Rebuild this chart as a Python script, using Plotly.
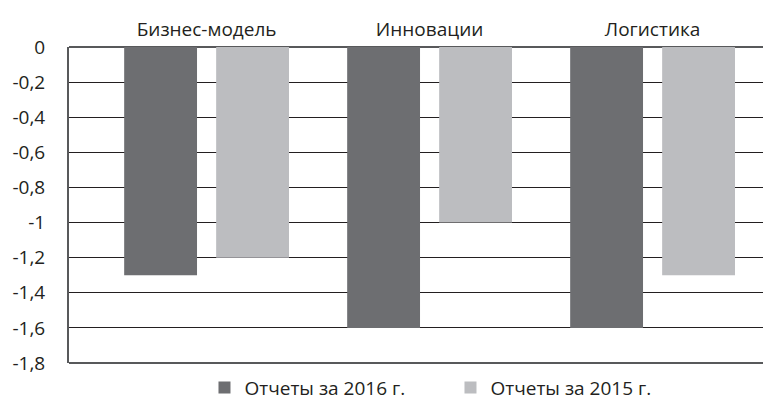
import plotly.graph_objects as go

categories = ["Бизнес-модель", "Инновации", "Логистика"]
series_2016 = [-1.3, -1.6, -1.6]
series_2015 = [-1.2, -1.0, -1.3]
series_names = ["Отчеты за 2016 г.", "Отчеты за 2015 г."]
y_tickvals = [0, -0.2, -0.4, -0.6, -0.8, -1.0, -1.2, -1.4, -1.6, -1.8]
y_ticktext = ["0", "-0,2", "-0,4", "-0,6", "-0,8", "-1", "-1,2", "-1,4", "-1,6", "-1,8"]

FONT = "Open Sans"
FS = 19

fig = go.Figure()
fig.add_trace(go.Bar(x=categories, y=series_2016, name=series_names[0],
                     marker=dict(color="#6d6e71", line=dict(width=0))))
fig.add_trace(go.Bar(x=categories, y=series_2015, name=series_names[1],
                     marker=dict(color="#bcbdc0", line=dict(width=0))))

fig.update_layout(
    width=763, height=393,
    margin=dict(l=61, r=0, t=39, b=38, autoexpand=False),
    paper_bgcolor="white", plot_bgcolor="white",
    barmode="group", bargap=0.175, bargroupgap=0.208,
    font=dict(family=FONT, size=FS, color="#231f20"),
    showlegend=True,
    legend=dict(orientation="h", x=0.193, xanchor="left", y=-0.018, yanchor="top",
                entrywidth=201, entrywidthmode="pixels",
                font=dict(family=FONT, size=FS, color="#231f20"),
                itemwidth=30, tracegroupgap=0),
    xaxis=dict(side="top", range=[-0.617, 2.531], showgrid=False, ticks="",
               showline=False, zeroline=False, ticklabelstandoff=6,
               tickfont=dict(family=FONT, size=FS, color="#231f20")),
    yaxis=dict(range=[-1.8, 0], tickvals=y_tickvals, ticktext=y_ticktext,
               showgrid=True, gridcolor="#231f20", gridwidth=1,
               zeroline=True, zerolinecolor="#58595b", zerolinewidth=2,
               showline=True, linecolor="#58595b", linewidth=2,
               ticks="", ticklabelstandoff=18,
               tickfont=dict(family=FONT, size=FS, color="#231f20")),
    shapes=[dict(type="line", xref="paper", yref="paper", x0=0, x1=1, y0=0, y1=0,
                 line=dict(color="#58595b", width=2))],
)

fig.write_html("out.html")
